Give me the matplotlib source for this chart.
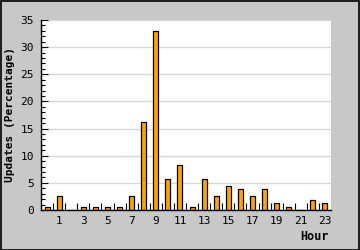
import numpy as np
import matplotlib.pyplot as plt
from matplotlib.patches import Rectangle
from matplotlib.ticker import MultipleLocator, FixedLocator

# Hourly share of updates (percent)
hours = list(range(24))
updates = [0.6, 2.6, 0.0, 0.6, 0.6, 0.6, 0.6, 2.6, 16.2, 32.9, 5.8, 8.3,
           0.6, 5.8, 2.6, 4.5, 3.9, 2.6, 3.9, 1.3, 0.6, 0.0, 1.9, 1.3]
x_labels = [str(h) for h in range(1, 24, 2)]

W, H = 360, 250
fig = plt.figure(figsize=(W / 100, H / 100), dpi=100)
fig.patch.set_facecolor('#c8c8c8')

# plot area in pixel coordinates
left, right, top, bottom = 41, 331, 20, 210
ax = fig.add_axes([left / W, (H - bottom) / H, (right - left) / W, (bottom - top) / H])
ax.set_facecolor('white')

ax.bar(hours, updates, width=0.42, color='#ffa500', edgecolor='black', linewidth=0.9, zorder=3)

ax.set_xlim(-0.5, 23.5)
ax.set_ylim(0, 35)

font = 'DejaVu Sans Mono'
ax.yaxis.set_major_locator(MultipleLocator(5))
ax.yaxis.set_minor_locator(MultipleLocator(1))
ax.tick_params(axis='y', which='major', direction='in', length=5, width=0.8, pad=5, labelsize=8)
ax.tick_params(axis='y', which='minor', direction='in', length=3, width=0.8)

ax.set_xticks(list(range(1, 24, 2)))
ax.set_xticklabels(x_labels)
ax.xaxis.set_minor_locator(FixedLocator([h + 0.5 for h in range(23)]))
ax.tick_params(axis='x', which='major', length=0, pad=4, labelsize=8)
ax.tick_params(axis='x', which='minor', direction='in', length=5, width=0.8)

for lab in ax.get_xticklabels() + ax.get_yticklabels():
    lab.set_fontfamily(font)

ax.grid(axis='y', which='major', color='#d8d8d8', linewidth=1, zorder=0)
ax.set_axisbelow(True)

for side in ['top', 'right']:
    ax.spines[side].set_visible(False)
for side in ['left', 'bottom']:
    ax.spines[side].set_linewidth(1)
    ax.spines[side].set_zorder(4)

ax.set_ylabel('Updates (Percentage)', fontfamily=font, fontweight='bold', fontsize=8, labelpad=4)
fig.text(329 / W, 1 - 236 / H, 'Hour', ha='right', va='center',
         fontfamily=font, fontweight='bold', fontsize=8.5)

# black frame around the whole picture
fig.patches.append(Rectangle((0.5 / W, 0.5 / H), 1 - 1.5 / W, 1 - 1.5 / H, transform=fig.transFigure,
                             fill=False, edgecolor='black', linewidth=1.2))

fig.savefig('out.png', dpi=100, facecolor=fig.get_facecolor())
